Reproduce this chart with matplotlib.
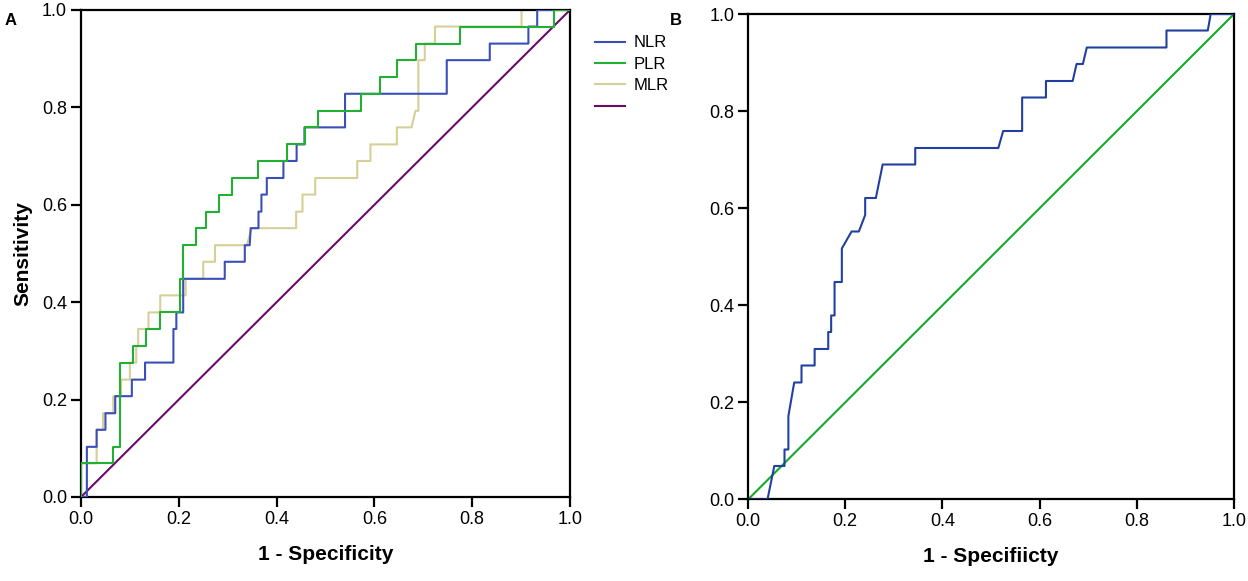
import numpy as np
import matplotlib.pyplot as plt

plt.rcParams['font.family'] = ['Liberation Sans', 'DejaVu Sans']

# panel A: ROC corner points (1 - specificity, sensitivity)
nlr_fpr = [0, 0.012, 0.012, 0.032, 0.032, 0.050, 0.050, 0.070, 0.070, 0.104, 0.104, 0.131, 0.131, 0.189,
           0.189, 0.195, 0.195, 0.209, 0.209, 0.294, 0.294, 0.335, 0.335, 0.345, 0.347, 0.363, 0.363, 0.369,
           0.369, 0.380, 0.380, 0.414, 0.414, 0.441, 0.441, 0.457, 0.457, 0.540, 0.540, 0.748, 0.748, 0.836,
           0.836, 0.915, 0.915, 0.933, 0.933, 1.0]
nlr_tpr = [0, 0, 0.103, 0.103, 0.138, 0.138, 0.172, 0.172, 0.207, 0.207, 0.241, 0.241, 0.276, 0.276,
           0.345, 0.345, 0.379, 0.379, 0.448, 0.448, 0.483, 0.483, 0.517, 0.517, 0.552, 0.552, 0.586, 0.586,
           0.621, 0.621, 0.655, 0.655, 0.690, 0.690, 0.724, 0.724, 0.759, 0.759, 0.828, 0.828, 0.897, 0.897,
           0.931, 0.931, 0.966, 0.966, 1.0, 1.0]

plr_fpr = [0, 0, 0.065, 0.065, 0.080, 0.080, 0.106, 0.106, 0.132, 0.132, 0.162, 0.162, 0.202, 0.202,
           0.209, 0.209, 0.235, 0.235, 0.256, 0.256, 0.283, 0.283, 0.308, 0.308, 0.361, 0.361, 0.421, 0.421,
           0.458, 0.458, 0.485, 0.485, 0.572, 0.572, 0.611, 0.611, 0.646, 0.646, 0.685, 0.685, 0.776, 0.776,
           0.967, 0.967, 1.0]
plr_tpr = [0, 0.069, 0.069, 0.103, 0.103, 0.276, 0.276, 0.310, 0.310, 0.345, 0.345, 0.379, 0.379, 0.448,
           0.448, 0.517, 0.517, 0.552, 0.552, 0.586, 0.586, 0.621, 0.621, 0.655, 0.655, 0.690, 0.690, 0.724,
           0.724, 0.759, 0.759, 0.793, 0.793, 0.828, 0.828, 0.862, 0.862, 0.897, 0.897, 0.931, 0.931, 0.966,
           0.966, 1.0, 1.0]

mlr_fpr = [0, 0, 0.032, 0.032, 0.045, 0.045, 0.066, 0.066, 0.082, 0.082, 0.100, 0.100, 0.113, 0.113,
           0.117, 0.117, 0.138, 0.138, 0.162, 0.162, 0.214, 0.214, 0.250, 0.250, 0.274, 0.274, 0.339, 0.349,
           0.440, 0.440, 0.453, 0.453, 0.479, 0.479, 0.565, 0.565, 0.592, 0.592, 0.646, 0.646, 0.676, 0.684,
           0.690, 0.690, 0.703, 0.703, 0.724, 0.724, 0.901, 0.901, 1.0]
mlr_tpr = [0, 0.069, 0.069, 0.138, 0.138, 0.172, 0.172, 0.207, 0.207, 0.241, 0.241, 0.276, 0.276, 0.310,
           0.310, 0.345, 0.345, 0.379, 0.379, 0.414, 0.414, 0.448, 0.448, 0.483, 0.483, 0.517, 0.517, 0.552,
           0.552, 0.586, 0.586, 0.621, 0.621, 0.655, 0.655, 0.690, 0.690, 0.724, 0.724, 0.759, 0.759, 0.793,
           0.793, 0.897, 0.897, 0.931, 0.931, 0.966, 0.966, 1.0, 1.0]

# panel B
b_fpr = [0, 0.040, 0.054, 0.075, 0.075, 0.083, 0.083, 0.095, 0.110, 0.110, 0.137, 0.137, 0.165, 0.165,
         0.171, 0.171, 0.178, 0.178, 0.193, 0.193, 0.213, 0.228, 0.241, 0.241, 0.263, 0.277, 0.344, 0.344,
         0.515, 0.525, 0.564, 0.564, 0.613, 0.613, 0.668, 0.676, 0.689, 0.697, 0.861, 0.861, 0.946, 0.952,
         1.0]
b_tpr = [0, 0, 0.069, 0.069, 0.103, 0.103, 0.172, 0.241, 0.241, 0.276, 0.276, 0.310, 0.310, 0.345,
         0.345, 0.379, 0.379, 0.448, 0.448, 0.517, 0.552, 0.552, 0.586, 0.621, 0.621, 0.690, 0.690, 0.724,
         0.724, 0.759, 0.759, 0.828, 0.828, 0.862, 0.862, 0.897, 0.897, 0.931, 0.931, 0.966, 0.966, 1.0,
         1.0]

ref = [0, 1]
ticks = [0.0, 0.2, 0.4, 0.6, 0.8, 1.0]

fig = plt.figure(figsize=(12.48, 5.81), dpi=100)
axA = fig.add_axes([0.0649, 0.1446, 0.3918, 0.8382])
axB = fig.add_axes([0.5994, 0.1403, 0.3894, 0.8356])


def style(ax):
    ax.set_xlim(0, 1)
    ax.set_ylim(0, 1)
    ax.set_xticks(ticks)
    ax.set_yticks(ticks)
    ax.set_xticklabels(['%.1f' % t for t in ticks])
    ax.set_yticklabels(['%.1f' % t for t in ticks])
    for s in ax.spines.values():
        s.set_linewidth(1.6)
    ax.tick_params(direction='out', length=7, width=1.6, labelsize=13, pad=3)


l1, = axA.plot(nlr_fpr, nlr_tpr, color='#3a4fb8', lw=1.5, zorder=3)
l2, = axA.plot(plr_fpr, plr_tpr, color='#22b033', lw=1.5, zorder=4)
l3, = axA.plot(mlr_fpr, mlr_tpr, color='#d6cf97', lw=1.5, zorder=2)
l4, = axA.plot(ref, ref, color='#6a0a6a', lw=1.5, zorder=1)
style(axA)
axA.set_xlabel('1 - Specificity', fontsize=15, fontweight='bold', labelpad=12)
axA.set_ylabel('Sensitivity', fontsize=15, fontweight='bold', labelpad=7)

fig.legend([l1, l2, l3, l4], ['NLR', 'PLR', 'MLR', ' '], loc='upper left',
           bbox_to_anchor=(0.465, 0.965), frameon=False, fontsize=12,
           handlelength=1.8, labelspacing=0.38, handletextpad=0.5)

axB.plot(b_fpr, b_tpr, color='#2140a0', lw=1.5, zorder=3)
axB.plot(ref, ref, color='#14a82c', lw=1.5, zorder=2)
style(axB)
axB.set_xlabel('1 - Specifiicty', fontsize=15, fontweight='bold', labelpad=12)

fig.text(0.004, 0.978, 'A', fontsize=12, fontweight='bold', va='top')
fig.text(0.537, 0.978, 'B', fontsize=12, fontweight='bold', va='top')

fig.savefig('out.png', dpi=100)
